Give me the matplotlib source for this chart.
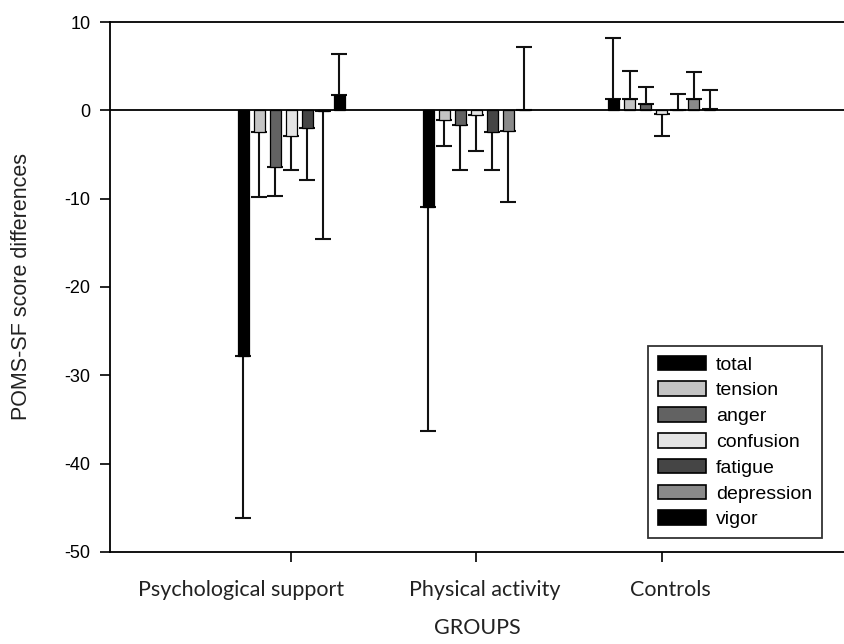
import matplotlib
matplotlib.use("Agg")
import matplotlib.pyplot as plt
import matplotlib.transforms as mtrans
import numpy as np

# groups and POMS-SF subscales
groups = ["Psychological support", "Physical activity", "Controls"]
scales = ["total", "tension", "anger", "confusion", "fatigue", "depression", "vigor"]

# mean score differences per group (one list per subscale)
total      = [-27.8, -10.9, 1.3]
tension    = [-2.5, -1.1, 1.3]
anger      = [-6.4, -1.7, 0.7]
confusion  = [-2.9, -0.5, -0.4]
fatigue    = [-2.0, -2.5, 0.05]
depression = [-0.1, -2.3, 1.3]
vigor      = [1.7, 0.05, 0.2]

# error bar lengths (drawn away from zero only)
total_err      = [18.3, 25.4, 6.9]
tension_err    = [7.3, 2.9, 3.2]
anger_err      = [3.3, 5.0, 2.0]
confusion_err  = [3.8, 4.1, 2.5]
fatigue_err    = [5.9, 4.2, 1.8]
depression_err = [14.5, 8.1, 3.0]
vigor_err      = [4.7, 7.1, 2.1]

means = [total, tension, anger, confusion, fatigue, depression, vigor]
errs = [total_err, tension_err, anger_err, confusion_err, fatigue_err,
        depression_err, vigor_err]
colors = ["#000000", "#c4c4c4", "#626262", "#e4e4e4", "#454545", "#8a8a8a", "#000000"]

plt.rcParams['font.family'] = ['Liberation Sans', 'DejaVu Sans']
plt.rcParams['axes.unicode_minus'] = False

fig = plt.figure(figsize=(8.44, 6.44), dpi=100)
ax = fig.add_axes([0.1303, 0.1429, 0.8697, 0.8229])

x = np.arange(1, len(groups) + 1)
step = 0.0865
width = 0.059

for i, (m, e, col) in enumerate(zip(means, errs, colors)):
    m = np.array(m)
    e = np.array(e)
    pos = x + (i - 3) * step
    ax.bar(pos, m, width, color=col, edgecolor='black', linewidth=0.9,
           label=scales[i], zorder=3)
    lower = np.where(m < 0, e, 0)
    upper = np.where(m >= 0, e, 0)
    ax.errorbar(pos, m, yerr=[lower, upper], fmt='none', ecolor='#111111',
                elinewidth=1.5, capsize=5.5, capthick=1.5, zorder=2)

ax.axhline(0, color='black', linewidth=1.3, zorder=4)

ax.set_xlim(0.022, 3.985)
ax.set_ylim(-50, 10)
ax.set_yticks(np.arange(-50, 11, 10))
ax.set_xticks(x)
ax.set_xticklabels([])

# group names sit slightly off their ticks in the original
offsets = [-50, 8, 9]
base = mtrans.blended_transform_factory(ax.transData, ax.transAxes)
for xi, name, dx in zip(x, groups, offsets):
    tr = base + mtrans.ScaledTranslation(dx / 100, -38 / 100, fig.dpi_scale_trans)
    ax.text(xi, 0, name, transform=tr, ha='center', va='center',
            family=['Lato', 'DejaVu Sans'], fontsize=15.5, color='#222222')

ax.tick_params(axis='y', labelsize=13, length=7, width=1.2, direction='out', pad=7)
ax.tick_params(axis='x', length=7, width=1.2, direction='out')

for s in ['left', 'bottom', 'top']:
    ax.spines[s].set_linewidth(1.3)
ax.spines['right'].set_visible(False)

ax.set_ylabel('POMS-SF score differences', fontsize=15.5, color='#222222')
ax.yaxis.set_label_coords(-0.12, 0.5)
ax.yaxis.label.set_va('center')
ax.set_xlabel('GROUPS', family=['Lato', 'DejaVu Sans'], fontsize=15.5, color='#222222')
ax.xaxis.set_label_coords(0.5, -0.143)
ax.xaxis.label.set_va('center')

leg = ax.legend(loc='lower right', bbox_to_anchor=(0.970, 0.026), fontsize=14,
                frameon=True, fancybox=False, edgecolor='black',
                handlelength=2.5, handleheight=0.77, labelspacing=0.4,
                handletextpad=0.5, borderpad=0.5, borderaxespad=0)
leg.get_frame().set_linewidth(1.3)
for p in leg.get_patches():
    p.set_linewidth(1.2)

plt.savefig('out.png', dpi=100)
